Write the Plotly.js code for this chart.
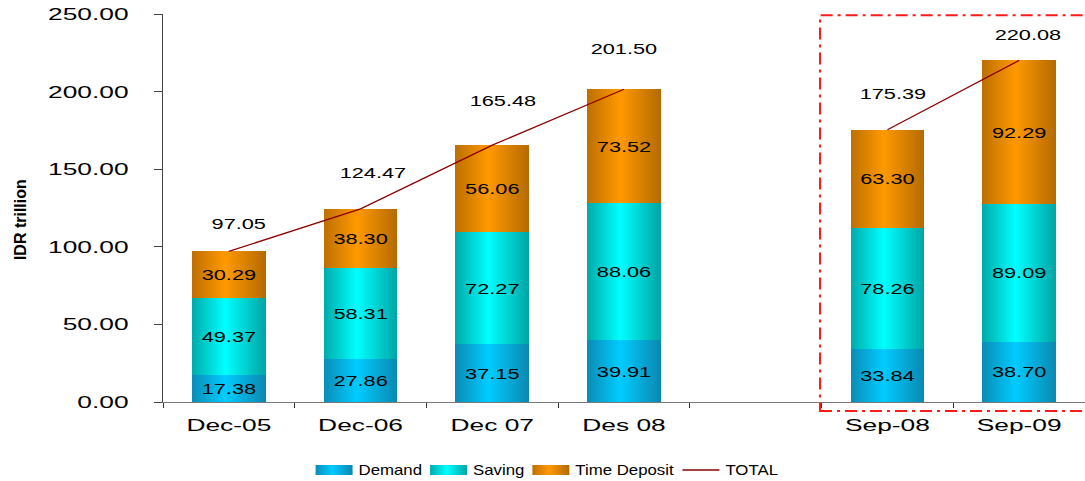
<!DOCTYPE html>
<html>
<head>
<meta charset="utf-8">
<script src="https://cdn.plot.ly/plotly-3.0.1.min.js"></script>
<style>
html,body{margin:0;padding:0;background:#fff;}
#chart{width:1085px;height:481px;}
</style>
</head>
<body>
<div id="chart"></div>
<script>
// ---- data ----
const categories = ['Dec-05', 'Dec-06', 'Dec 07', 'Des 08', '\u00a0', 'Sep-08', 'Sep-09'];
const demand      = [17.38, 27.86, 37.15, 39.91, null, 33.84, 38.70];
const saving      = [49.37, 58.31, 72.27, 88.06, null, 78.26, 89.09];
const timeDeposit = [30.29, 38.30, 56.06, 73.52, null, 63.30, 92.29];
const total       = [97.05, 124.47, 165.48, 201.50, null, 175.39, 220.08];
const yTicks      = [0, 50, 100, 150, 200, 250];
const seriesNames = ['Demand', 'Saving', 'Time Deposit', 'TOTAL'];
const yTitle      = 'IDR trillion';

const FONT = 'Liberation Sans, Arial, sans-serif';

function barTrace(name, vals, color) {
  return {
    type: 'bar', name: name, x: categories, y: vals,
    marker: {color: color, line: {width: 0}},
    texttemplate: '%{y:.2f}', textposition: 'inside', insidetextanchor: 'middle',
    textangle: 0, constraintext: 'none',
    textfont: {family: FONT, size: 15, color: '#000'},
    hoverinfo: 'skip'
  };
}

const traces = [
  barTrace(seriesNames[0], demand, '#00c4f4'),
  barTrace(seriesNames[1], saving, '#00f4f4'),
  barTrace(seriesNames[2], timeDeposit, '#f59200'),
  {
    type: 'scatter', mode: 'lines', name: seriesNames[3], x: categories, y: total,
    line: {color: '#8c0000', width: 1.3}, connectgaps: false, hoverinfo: 'skip'
  }
];

// label offsets for the TOTAL labels (pixels)
const labelDX = [10, 12, 11, 0, 0, 6, 9];
const labelDY = [28, 36, 45, 41, 0, 36, 26];
const annotations = [];
categories.forEach((c, i) => {
  if (total[i] === null) return;
  annotations.push({
    x: c, y: total[i], xref: 'x', yref: 'y', text: total[i].toFixed(2),
    showarrow: false, xshift: labelDX[i], yshift: labelDY[i], yanchor: 'middle',
    font: {family: FONT, size: 15, color: '#000'}
  });
});
annotations.push({
  xref: 'paper', yref: 'paper', x: -0.155, y: 0.469, text: '<b>' + yTitle + '</b>',
  textangle: -90, showarrow: false, xanchor: 'center', yanchor: 'middle',
  font: {family: FONT, size: 16, color: '#000'}
});

const layout = {
  width: 1085, height: 481,
  margin: {l: 163, r: 0, t: 14, b: 79, autoexpand: false},
  paper_bgcolor: '#fff', plot_bgcolor: '#fff',
  barmode: 'stack', bargap: 0.44,
  font: {family: FONT, color: '#000'},
  xaxis: {
    type: 'category', categoryorder: 'array', categoryarray: categories,
    range: [-0.5, 6.5], showgrid: false, zeroline: false, automargin: false,
    showline: true, linecolor: '#7a7a7a', linewidth: 1,
    ticks: 'outside', tickson: 'boundaries', ticklen: 5, tickcolor: '#333', tickwidth: 1,
    tickfont: {family: FONT, size: 17, color: '#000'}, ticklabelstandoff: 8,
    fixedrange: true
  },
  yaxis: {
    range: [0, 250], tickvals: yTicks, tickformat: '.2f', automargin: false,
    showgrid: false, zeroline: false,
    showline: true, linecolor: '#444', linewidth: 1,
    ticks: 'outside', ticklen: 8, tickcolor: '#444', tickwidth: 1,
    tickfont: {family: FONT, size: 17, color: '#000'}, ticklabelstandoff: 22,
    fixedrange: true
  },
  showlegend: true,
  legend: {
    orientation: 'h', x: 0.5, xanchor: 'center', y: -0.12, yanchor: 'top',
    font: {family: FONT, size: 14, color: '#000'}, itemwidth: 40,
    bgcolor: 'rgba(0,0,0,0)', traceorder: 'normal'
  },
  annotations: annotations,
  shapes: [{
    type: 'rect', xref: 'paper', yref: 'paper',
    x0: 0.7126, x1: 1.02, y0: -0.023, y1: 0.997,
    line: {color: '#ff1a1a', width: 2, dash: '12px,5px,3px,5px'},
    fillcolor: 'rgba(0,0,0,0)', layer: 'above'
  }]
};

function stretch(el, s) {
  const bb = el.getBBox();
  let anchor = el.getAttribute('text-anchor') || getComputedStyle(el).textAnchor || 'start';
  let cx = anchor === 'end' ? bb.x + bb.width : (anchor === 'middle' ? bb.x + bb.width / 2 : bb.x);
  const prev = el.getAttribute('transform') || '';
  el.setAttribute('transform', prev + ' translate(' + cx + ',0) scale(' + s + ',1) translate(' + (-cx) + ',0)');
}

function addGradient(defs, id, c0, c1, c2) {
  const ns = 'http://www.w3.org/2000/svg';
  const g = document.createElementNS(ns, 'linearGradient');
  g.setAttribute('id', id);
  g.setAttribute('x1', '0'); g.setAttribute('x2', '1');
  g.setAttribute('y1', '0'); g.setAttribute('y2', '0');
  [[0, c0], [0.45, c1], [1, c2]].forEach(([o, c]) => {
    const st = document.createElementNS(ns, 'stop');
    st.setAttribute('offset', o); st.setAttribute('stop-color', c);
    g.appendChild(st);
  });
  defs.appendChild(g);
}

Plotly.newPlot('chart', traces, layout, {displayModeBar: false, staticPlot: true}).then(gd => {
  const svg = gd.querySelector('svg.main-svg');
  let defs = svg.querySelector('defs');
  const gradIds = ['gDemand', 'gSaving', 'gTime'];
  addGradient(defs, 'gDemand', '#0a8cb6', '#00ccff', '#0a88b0');
  addGradient(defs, 'gSaving', '#00aaaa', '#00ffff', '#00a4a4');
  addGradient(defs, 'gTime',   '#bd6f00', '#ff9900', '#b46a00');

  // gradient fill for bars
  gd.querySelectorAll('.barlayer .trace').forEach((t, i) => {
    t.querySelectorAll('path').forEach(p => { p.style.fill = 'url(#' + gradIds[i] + ')'; });
  });

  // stretch texts
  gd.querySelectorAll('.xtick text').forEach(t => stretch(t, 1.55));
  gd.querySelectorAll('.ytick text').forEach(t => stretch(t, 1.55));
  gd.querySelectorAll('.barlayer text').forEach(t => stretch(t, 1.45));
  gd.querySelectorAll('.annotation-text').forEach(t => {
    if (t.textContent.indexOf('IDR') === -1) stretch(t, 1.45);
  });

  // legend: wide symbols, stretched text, repositioned
  const legend = gd.querySelector('.legend');
  const sb = legend.querySelector('.scrollbox');
  if (sb) sb.removeAttribute('clip-path');
  legend.removeAttribute('clip-path');
  const items = Array.from(legend.querySelectorAll('.traces'));
  const SW = 37, GAP1 = 6, GAP2 = 8;
  let xCur = 0;
  items.forEach((it, i) => {
    const pts = it.querySelectorAll('.legendpoints path');
    pts.forEach(p => {
      p.removeAttribute('transform');
      p.setAttribute('d', 'M0,-5H' + SW + 'V5H0Z');
      if (i < 3) p.style.fill = 'url(#' + gradIds[i] + ')';
      p.style.stroke = 'none';
    });
    it.querySelectorAll('.legendlines path').forEach(p => {
      p.removeAttribute('transform');
      p.setAttribute('d', 'M0,0H' + SW);
    });
    const tx = it.querySelector('text.legendtext');
    tx.setAttribute('x', SW + GAP1);
    stretch(tx, 1.2);
    const w = tx.getBBox().width * 1.2;
    const tr = it.getAttribute('transform') || '';
    const m = tr.match(/translate\(([-\d.]+),\s*([-\d.]+)\)/);
    const y = m ? parseFloat(m[2]) : 0;
    it.setAttribute('transform', 'translate(' + xCur + ',' + y + ')');
    xCur += SW + GAP1 + w + GAP2;
  });
  const totalW = xCur - GAP2;
  const ltr = legend.getAttribute('transform') || '';
  const lm = ltr.match(/translate\(([-\d.]+),\s*([-\d.]+)\)/);
  let ly = lm ? parseFloat(lm[2]) : 0;
  const lineEl = items[3] ? items[3].querySelector('.legendlines path') : null;
  if (lineEl) {
    const r = lineEl.getBoundingClientRect();
    const svgR = svg.getBoundingClientRect();
    const cy = r.top - svgR.top + r.height / 2;
    ly += 470 - cy;
  }
  legend.setAttribute('transform', 'translate(' + (547 - totalW / 2) + ',' + ly + ')');
});
</script>
</body>
</html>
